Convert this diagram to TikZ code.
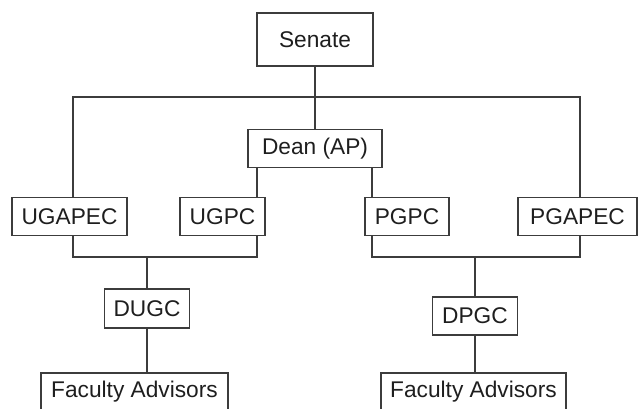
\documentclass[tikz,border=0pt]{standalone}
\usepackage{fontspec}
\setmainfont{Liberation Sans}
\usepackage{xcolor}
\usetikzlibrary{positioning}
\definecolor{linegray}{HTML}{3C3C3C}
\definecolor{textgray}{HTML}{1E1E1E}
\tikzset{
  box/.style={draw=linegray, line width=1.3pt, inner sep=0pt,
    minimum height=38pt, text=textgray,
    font=\fontsize{22.7}{26}\selectfont},
  link/.style={draw=linegray, line width=1.3pt}
}
\begin{document}
\begin{tikzpicture}[x=1pt,y=-1pt]
  \useasboundingbox (0,0) rectangle (640,409);
  \node(senate) [box, minimum width=116pt, minimum height=53pt] at (315,39.5) {Senate};
  \node(dean) [box, minimum width=134pt, below=62pt of senate] {Dean (AP)};
  \node(ugapec) [box, minimum width=115pt] at (69.5,216.5) {UGAPEC};
  \node(ugpc) [box, minimum width=85pt] at (222.5,216.5) {UGPC};
  \node(pgpc) [box, minimum width=84pt] at (407,216.5) {PGPC};
  \node(pgapec) [box, minimum width=119pt] at (577.5,216.5) {PGAPEC};
  \node(dugc) [box, minimum width=85pt, minimum height=39pt] at (147,308.5) {DUGC};
  \node(dpgc) [box, minimum width=85pt] at (475,316) {DPGC};
  \node(fac1) [box, minimum width=187pt] at (134.5,392) {Faculty Advisors};
  \node(fac2) [box, minimum width=185pt] at (473.5,392) {Faculty Advisors};
  \coordinate(busL) at (73,97);
  \coordinate(busR) at (580,97);
  \coordinate(dl) at ([xshift=-58pt]dean.south);
  \coordinate(dr) at ([xshift=57pt]dean.south);
  \coordinate(jU) at (147,257);
  \coordinate(jP) at (475,257);
  \draw[link] (senate) -- (dean);
  \draw[link] (busL |- ugapec.north) -- (busL) -- (busR) -- (busR |- pgapec.north);
  \draw[link] (dl) -- (dl |- ugpc.north);
  \draw[link] (dr) -- (dr |- pgpc.north);
  \draw[link] (busL |- ugapec.south) |- (dl |- jU) -- (dl |- ugpc.south);
  \draw[link] (dr |- pgpc.south) |- (busR |- jP) -- (busR |- pgapec.south);
  \draw[link] (jU) -- (dugc);
  \draw[link] (jP) -- (dpgc);
  \draw[link] (dugc) -- (dugc.south |- fac1.north);
  \draw[link] (dpgc) -- (dpgc.south |- fac2.north);
\end{tikzpicture}
\end{document}
